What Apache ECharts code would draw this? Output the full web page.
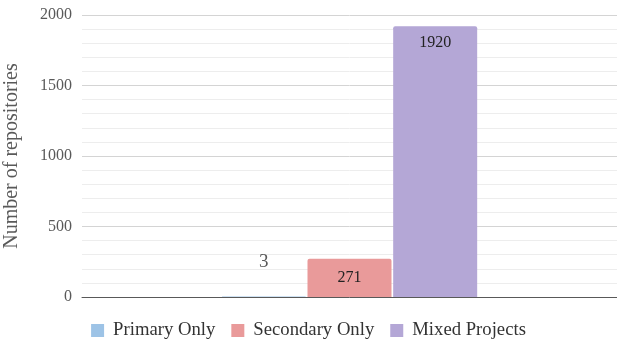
<!DOCTYPE html>
<html>
<head>
<meta charset="utf-8">
<script src="https://cdn.jsdelivr.net/npm/echarts@6/dist/echarts.min.js"></script>
<style>
  html, body { margin: 0; padding: 0; background: #fff; }
  #chart { width: 617px; height: 343px; }
</style>
</head>
<body>
<div id="chart"></div>
<script>
// Repository counts by project type
const categories = [''];
const seriesNames = ['Primary Only', 'Secondary Only', 'Mixed Projects'];
const primaryOnly = [3];
const secondaryOnly = [271];
const mixedProjects = [1920];
const yTicks = [0, 500, 1000, 1500, 2000];

const serif = '"Liberation Serif", "DejaVu Serif", serif';
const colors = ['#9dc3e6', '#e99a9a', '#b4a7d6'];

const chart = echarts.init(document.getElementById('chart'), null, { renderer: 'canvas' });

chart.setOption({
  animation: false,
  textStyle: { fontFamily: serif },
  grid: {
    left: 82, right: 0, top: 15, bottom: 46,
    containLabel: false,
    outerBoundsMode: 'none'
  },
  legend: {
    data: seriesNames,
    top: 316,
    left: 'center',
    itemWidth: 13,
    itemHeight: 13,
    itemGap: 16,
    icon: 'rect',
    textStyle: { fontFamily: serif, fontSize: 18.7, color: '#333', padding: [0, 0, 0, 4] }
  },
  xAxis: {
    type: 'category',
    data: categories,
    axisLine: { lineStyle: { color: '#595959', width: 1 } },
    axisTick: { show: false },
    axisLabel: { show: false }
  },
  yAxis: {
    type: 'value',
    min: yTicks[0],
    max: yTicks[yTicks.length - 1],
    interval: 500,
    name: 'Number of repositories',
    nameLocation: 'middle',
    nameGap: 60,
    nameTextStyle: { fontFamily: serif, fontSize: 20, color: '#595959' },
    axisLine: { show: false },
    axisTick: { show: false },
    axisLabel: {
      fontFamily: serif,
      fontSize: 16,
      color: '#595959',
      margin: 10,
      formatter: v => String(v)
    },
    splitLine: { lineStyle: { color: '#d4d4d4', width: 1 } },
    minorTick: { show: false, splitNumber: 5 },
    minorSplitLine: { show: true, lineStyle: { color: '#ededed', width: 1 } }
  },
  series: [
    {
      name: seriesNames[0],
      type: 'bar',
      data: primaryOnly,
      barWidth: 84,
      barGap: '2%',
      itemStyle: { color: colors[0], borderRadius: [2, 2, 0, 0] },
      label: {
        show: true,
        position: 'top',
        distance: 25,
        fontFamily: serif,
        fontSize: 19,
        color: '#595959'
      }
    },
    {
      name: seriesNames[1],
      type: 'bar',
      data: secondaryOnly,
      barWidth: 84,
      barGap: '2%',
      itemStyle: { color: colors[1], borderRadius: [2, 2, 0, 0] },
      label: {
        show: true,
        position: 'inside',
        fontFamily: serif,
        fontSize: 16,
        color: '#222'
      }
    },
    {
      name: seriesNames[2],
      type: 'bar',
      data: mixedProjects,
      barWidth: 84,
      barGap: '2%',
      itemStyle: { color: colors[2], borderRadius: [2, 2, 0, 0] },
      label: {
        show: true,
        position: 'insideTop',
        distance: 9,
        fontFamily: serif,
        fontSize: 16,
        color: '#222'
      }
    }
  ]
});
</script>
</body>
</html>
